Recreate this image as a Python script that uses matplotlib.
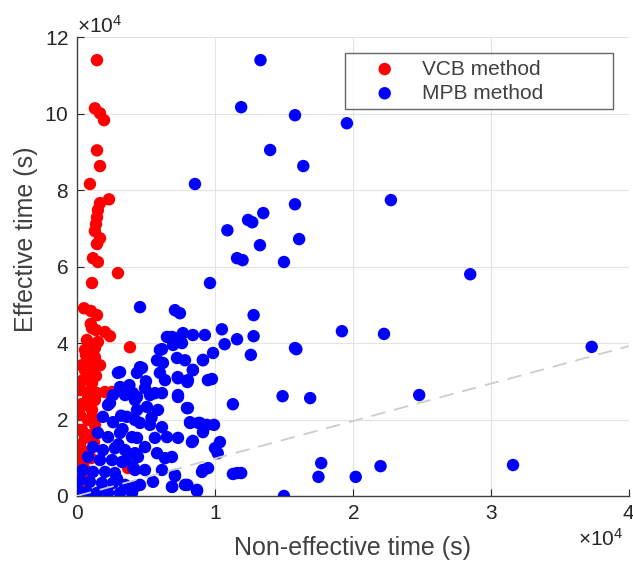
import numpy as np
import matplotlib
matplotlib.use("Agg")
import matplotlib.pyplot as plt
from matplotlib.ticker import ScalarFormatter

plt.rcParams['font.family'] = ['Liberation Sans', 'DejaVu Sans']
plt.rcParams['mathtext.fontset'] = 'custom'
plt.rcParams['mathtext.rm'] = 'Liberation Sans'

# VCB method (non-effective time, effective time) in seconds
vcb_x = [1450, 1300, 1670, 1960, 1450, 1670, 940, 2320, 1670, 1520, 1450, 1380,
         1300, 1670, 1450, 1160, 1520, 2970, 1090, 510, 1010, 1450, 1090, 1380,
         2030, 2390, 3840, 720, 1520, 1300, 580, 940, 580, 1160, 1670, 430,
         1090, 220, 800, 1450, 2030, 2540, 650, 1300, 360, 1380, 800, 1300,
         510, 1090, 220, 800, 1300, 360, 940, 1230, 220, 650, 1010, 140,
         510, 220, 70, 430, 800, 580, 1160, 70, 70, 3700, 300, 600, 1000]
vcb_y = [114000, 101400, 100100, 98300, 90400, 86300, 81600, 77600, 76600, 74800,
         72900, 71100, 69300, 67400, 65900, 62200, 61200, 58300, 55700, 49100,
         48400, 47300, 43900, 43400, 42900, 41800, 38900, 40800, 40300, 38700,
         38200, 35500, 32900, 32900, 34200, 30300, 29500, 27700, 27200, 26900,
         27200, 27200, 36900, 36300, 34200, 31400, 25600, 25100, 23800, 22500,
         21200, 19900, 18600, 17300, 15900, 14100, 13300, 11500, 9900, 8900,
         7300, 4700, 2100, 3700, 5500, 15200, 20400, 10700, 17300, 7300,
         24000, 30500, 45000]

# MPB method
mpb_x = [15800, 19560, 16400, 15800, 22750, 16100, 15000, 28500, 13300, 11900,
         14000, 8550, 13500, 12400, 12700, 10900, 13260, 11600, 12000, 9640,
         7100, 7460, 12800, 10500, 11600, 12800, 10700, 12600, 15800, 9860,
         9130, 8400, 9780, 7300, 8000, 14900, 11300, 8040, 8200, 8800,
         9130, 9930, 10360, 10000, 10200, 8400, 11600, 11900, 11300, 9060,
         9500, 7100, 8000, 8700, 6900, 15000, 19200, 22250, 15900, 37300,
         16900, 24800, 17700, 17500, 20200, 22000, 31600,
         4570, 6520, 7100, 7680, 8400, 9270, 6960, 7610, 6160, 5800,
         6230, 7250, 7830, 8400, 9130, 4710, 4350, 6010, 6380, 7320,
         8040, 9490, 4930, 5650, 7320, 4060,
         4350, 5290, 6160, 7320, 7970, 8190, 8910, 9420, 8330, 7320,
         6520, 5650, 4350, 5070, 5870, 4570, 5290, 6160, 4350, 4930,
         5800, 6380, 6880, 4420, 9130, 7100, 7830, 8700, 6880, 5510,
         4570, 4930, 4060, 6160,
         2250, 2610, 3480, 4200, 1880, 2610, 3620, 4200, 1520, 2250,
         3120, 3990, 1160, 1880, 2750, 3480, 4200, 800, 1670, 2540,
         3260, 430, 1160, 2030, 2750, 4200, 220, 940, 1810, 2610,
         3480, 4200, 70, 720, 1450, 2250, 3120, 3990, 200,
         2970, 4570, 3120, 2390, 3120, 6010, 6880, 3200, 3800, 5000,
         3000, 3600, 5400, 2900, 3300]
mpb_y = [99600, 97500, 86300, 76300, 77400, 67200, 61200, 58000, 114000, 101700,
         90500, 81600, 74000, 72200, 71600, 69500, 65600, 62200, 61700, 55700,
         48600, 47800, 47300, 43600, 41000, 41800, 39700, 36900, 38700, 37400,
         35600, 33000, 30600, 31100, 29800, 26100, 24000, 23000, 19100, 19100,
         16700, 18600, 14100, 12500, 11200, 14400, 6000, 6000, 5750, 6300,
         7300, 5200, 2900, 1300, 2400, 0, 43100, 42400, 38400, 39000,
         25600, 26400, 8600, 5000, 5000, 7800, 8100,
         49400, 41600, 41300, 42600, 42100, 42100, 39500, 40000, 38400, 35500,
         34800, 36100, 35500, 32900, 35500, 33500, 32200, 32200, 30300, 30800,
         30300, 30300, 28200, 26900, 26400, 26900,
         25900, 26400, 26900, 25900, 23000, 19300, 19100, 18600, 14100, 15200,
         15400, 15200, 22500, 23300, 22500, 19100, 18600, 18000, 15200, 12800,
         11200, 9900, 10200, 10200, 6800, 5500, 2900, 1600, 2400, 3700,
         2900, 6800, 7600, 6800,
         23800, 26400, 26400, 25100, 20700, 19300, 20700, 19900, 16500, 15400,
         16500, 15400, 12800, 12000, 12500, 12000, 11200, 10200, 9400, 9400,
         8900, 6800, 6300, 6300, 6000, 6800, 4200, 3700, 3400, 3400,
         2900, 2400, 1600, 1000, 800, 800, 800, 800, 200,
         32200, 33700, 28500, 24300, 32400, 38200, 41600, 21000, 29000, 30000,
         13500, 9500, 20500, 4500, 17500]

ref_x = [0, 40000]
ref_y = [0, 39200]

fig = plt.figure(figsize=(6.33, 5.64), dpi=100)
ax = fig.add_axes([0.1216, 0.1206, 0.872, 0.8134])

ax.scatter(vcb_x, vcb_y, s=80, c='#ff0000', edgecolors='none',
           label='VCB method           ', zorder=2)
ax.scatter(mpb_x, mpb_y, s=80, c='#0000ff', edgecolors='none',
           label='MPB method           ', zorder=3)
ax.plot(ref_x, ref_y, '--', color='#cccccc', lw=1.3, dashes=(8, 5), zorder=4)

ax.set_xlim(0, 40000)
ax.set_ylim(0, 120000)
ax.set_xticks([0, 10000, 20000, 30000, 40000])
ax.set_yticks(np.arange(0, 120001, 20000))

for axis in (ax.xaxis, ax.yaxis):
    fmt = ScalarFormatter(useMathText=True)
    fmt.set_powerlimits((4, 4))
    axis.set_major_formatter(fmt)
for off in (ax.xaxis.get_offset_text(), ax.yaxis.get_offset_text()):
    off.set_fontsize(15)
    off.set_color('#404040')
ax.xaxis.get_offset_text().set_x(0.99)

ax.grid(True, color='#e3e3e3', lw=0.8, zorder=0)
ax.set_axisbelow(True)
for side in ('top', 'right'):
    ax.spines[side].set_visible(False)
for side in ('left', 'bottom'):
    ax.spines[side].set_color('#404040')
    ax.spines[side].set_linewidth(1.0)
ax.tick_params(direction='in', length=5, labelsize=15, colors='#262626', pad=6)

ax.set_xlabel('Non-effective time (s)', fontsize=18, color='#404040', labelpad=9)
ax.set_ylabel('Effective time (s)', fontsize=18, color='#404040')
ax.yaxis.set_label_coords(-0.071, 0.56)

leg = ax.legend(loc='upper right', bbox_to_anchor=(0.971, 0.965), fontsize=15,
                frameon=True, fancybox=False, edgecolor='#404040',
                handletextpad=0.2, borderpad=0.3, labelspacing=0.25,
                handlelength=3.2, borderaxespad=0.0)
leg.get_frame().set_linewidth(1.0)
for t in leg.get_texts():
    t.set_color('#404040')

fig.savefig('out.png', dpi=100)
